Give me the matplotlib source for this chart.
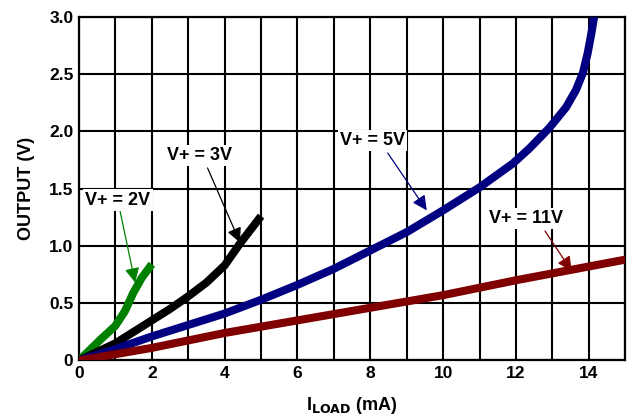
import numpy as np
import matplotlib
matplotlib.use('Agg')
import matplotlib.pyplot as plt

plt.rcParams['font.family'] = ['Liberation Sans', 'DejaVu Sans']
plt.rcParams['font.weight'] = 'bold'

# curves (I_LOAD in mA, OUTPUT in V)
x_2v = [0, 0.58, 0.99, 1.26, 1.49, 1.72, 2.0]
y_2v = [0, 0.18, 0.30, 0.43, 0.59, 0.72, 0.84]

x_3v = [0, 1.0, 2.0, 2.5, 3.0, 3.5, 4.0, 4.42, 5.0]
y_3v = [0, 0.15, 0.35, 0.45, 0.56, 0.68, 0.83, 1.02, 1.26]

x_5v = [0, 1, 2, 3, 4, 5, 6, 7, 8, 9, 10, 11, 11.92, 12.37, 12.92,
        13.38, 13.65, 13.84, 13.97, 14.07, 14.15]
y_5v = [0, 0.10, 0.21, 0.31, 0.41, 0.53, 0.66, 0.80, 0.96, 1.12, 1.31,
        1.51, 1.72, 1.85, 2.03, 2.21, 2.36, 2.51, 2.68, 2.85, 3.0]

x_11v = [0, 2, 4, 6, 8, 10, 12, 14, 15]
y_11v = [0, 0.11, 0.24, 0.35, 0.46, 0.57, 0.70, 0.82, 0.88]

labels = ['V+ = 2V', 'V+ = 3V', 'V+ = 5V', 'V+ = 11V']
colors = ['#008000', '#000000', '#000080', '#800000']
# text position, arrow tail, arrow tip
text_pos = [(1.07, 1.40), (3.32, 1.79), (8.07, 1.92), (12.29, 1.24)]
arrow_tail = [(1.13, 1.30), (3.53, 1.68), (8.48, 1.81), (12.8, 1.13)]
arrow_tip = [(1.54, 0.68), (4.42, 1.03), (9.55, 1.31), (13.53, 0.78)]

fig = plt.figure(figsize=(6.44, 4.17), dpi=100)
ax = fig.add_axes([0.1227, 0.1355, 0.848, 0.8245])

curves = [(x_2v, y_2v), (x_3v, y_3v), (x_5v, y_5v), (x_11v, y_11v)]
for (xs, ys), c in zip(curves, colors):
    ax.plot(xs, ys, color=c, lw=5.8, solid_capstyle='butt',
            solid_joinstyle='round', zorder=3)

for lab, c, tp, ta, tt in zip(labels, colors, text_pos, arrow_tail, arrow_tip):
    ax.annotate('', xy=tt, xytext=ta,
                arrowprops=dict(arrowstyle='-|>', color=c, lw=0.9,
                                mutation_scale=22, shrinkA=0, shrinkB=0),
                zorder=4)
    ax.text(tp[0], tp[1], lab, ha='center', va='center', fontsize=13,
            fontweight='bold', zorder=5,
            bbox=dict(facecolor='white', edgecolor='none', pad=1.5))

ax.set_xlim(0, 15)
ax.set_ylim(0, 3.0)
ax.set_xticks(range(0, 15, 2))
ax.set_xticks(range(0, 16), minor=True)
ax.set_yticks([0, 0.5, 1.0, 1.5, 2.0, 2.5, 3.0])
ax.set_yticklabels(['0', '0.5', '1.0', '1.5', '2.0', '2.5', '3.0'])
ax.grid(True, which='both', color='black', lw=1.5)
ax.tick_params(which='both', length=0, labelsize=12.5, pad=4)
for s in ax.spines.values():
    s.set_linewidth(1.6)

ax.set_xlabel(r'I$_{\mathbf{LOAD}}$ (mA)', fontsize=13, fontweight='bold', labelpad=10)
ax.set_ylabel('OUTPUT (V)', fontsize=13, fontweight='bold', labelpad=10)

fig.savefig('out.png', dpi=100)
